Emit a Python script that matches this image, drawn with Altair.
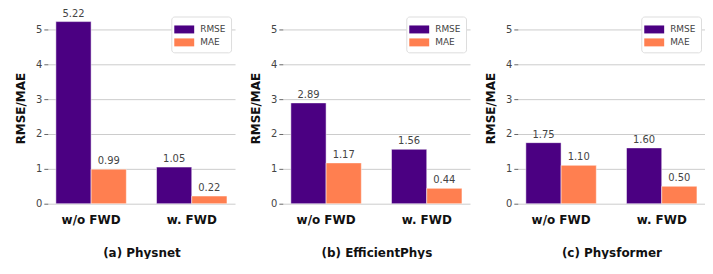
import altair as alt
import pandas as pd

models = ["(a) Physnet", "(b) EfficientPhys", "(c) Physformer"]
settings = ["w/o FWD", "w. FWD"]
metrics = ["RMSE", "MAE"]
rmse_vals = [[5.22, 1.05], [2.89, 1.56], [1.75, 1.60]]
mae_vals = [[0.99, 0.22], [1.17, 0.44], [1.10, 0.50]]
y_ticks = [0, 1, 2, 3, 4, 5]
colors = ["#4B0082", "#FF7F50"]

rows = []
for mi, m in enumerate(models):
    for si, s in enumerate(settings):
        rows.append({"model": m, "setting": s, "metric": "RMSE", "value": rmse_vals[mi][si]})
        rows.append({"model": m, "setting": s, "metric": "MAE", "value": mae_vals[mi][si]})
df = pd.DataFrame(rows)
df["label"] = df["value"].map(lambda v: f"{v:.2f}")

FONT = "DejaVu Sans"


def panel(model):
    d = df[df.model == model]
    base = alt.Chart(d).encode(
        x=alt.X(
            "setting:N",
            sort=settings,
            scale=alt.Scale(paddingInner=0.3, paddingOuter=0.08),
            axis=alt.Axis(
                title=model,
                labelAngle=0,
                labelFontWeight="bold",
                labelFontSize=12,
                labelColor="#111",
                labelPadding=11,
                ticks=False,
                domain=False,
                titleFontSize=12,
                titleFontWeight="bold",
                titleColor="#111",
                titlePadding=22,
            ),
        ),
        xOffset=alt.XOffset("metric:N", sort=metrics),
        y=alt.Y(
            "value:Q",
            scale=alt.Scale(domain=[0, 5.48], nice=False),
            axis=alt.Axis(
                values=y_ticks,
                title="RMSE/MAE",
                titleFontSize=12,
                titleFontWeight="bold",
                titleColor="#111",
                titlePadding=8,
                labelFontSize=10,
                labelColor="#444",
                tickSize=4,
                tickColor="#666",
                domain=False,
                grid=True,
                gridColor="#cccccc",
                gridWidth=1,
            ),
        ),
    )
    bars = base.mark_bar(stroke="white", strokeWidth=0.5).encode(
        color=alt.Color(
            "metric:N",
            sort=metrics,
            scale=alt.Scale(domain=metrics, range=colors),
            legend=alt.Legend(
                title=None,
                orient="top-right",
                offset=4,
                symbolType="M-1.25,-0.5H1.25V0.5H-1.25Z",
                symbolSize=256,
                symbolStrokeWidth=0,
                labelFontSize=9,
                labelColor="#444",
                labelOffset=8,
                rowPadding=0,
                padding=5,
                strokeColor="#dddddd",
                fillColor="white",
                cornerRadius=3,
            ),
        )
    )
    text = base.mark_text(dy=-8, fontSize=10, color="#444", font=FONT).encode(text="label:N")
    return (bars + text).properties(width=188, height=192)


chart = (
    alt.hconcat(*[panel(m) for m in models], spacing=14)
    .resolve_legend(color="independent")
    .properties(padding={"top": 0, "left": 6, "right": 0, "bottom": 0})
    .configure(font=FONT)
    .configure_view(stroke=None)
)

chart.save("out.html", embed_options={"renderer": "svg", "actions": False})
